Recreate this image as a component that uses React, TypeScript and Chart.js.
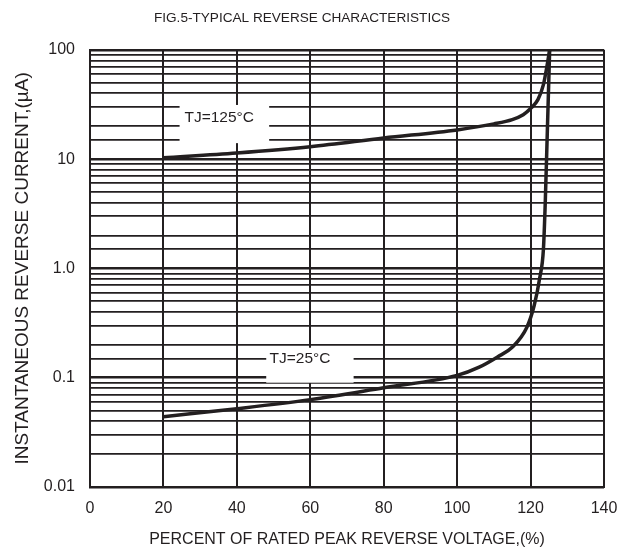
import React, { useEffect, useRef } from "react";
import { Chart, registerables } from "chart.js";

Chart.register(...registerables);

const chartTitle = "FIG.5-TYPICAL REVERSE CHARACTERISTICS";
const xTitle = "PERCENT OF RATED PEAK REVERSE VOLTAGE,(%)";
const yTitle = "INSTANTANEOUS REVERSE CURRENT,(\u00B5A)";

const xTicks = [0, 20, 40, 60, 80, 100, 120, 140];
const yTickLabels: Record<string, string> = { "2": "100", "1": "10", "0": "1.0", "-1": "0.1", "-2": "0.01" };

const x125 = [20, 40, 60, 80, 100, 110, 115, 118, 120, 122, 123.5, 124.5, 125.2];
const y125 = [10.3, 11.4, 13, 15.6, 18.5, 21, 23, 25.5, 29, 35, 48, 72, 100];

const x25 = [20, 40, 60, 80, 100, 106, 111, 115, 119, 121, 122.5, 123.5, 124, 124.5, 125.2];
const y25 = [0.044, 0.052, 0.063, 0.081, 0.105, 0.125, 0.155, 0.19, 0.29, 0.46, 0.82, 1.5, 4, 15, 100];

const labels = [
  { text: "TJ=125\u00B0C", x: 35.2, y: 23.8, box: [24.4, 48.8, 31.3, 14.0] },
  { text: "TJ=25\u00B0C", x: 57.2, y: 0.149, box: [48, 71.8, 0.188, 0.09] },
];

const ink = "#231f20";
const font = "'Liberation Sans', Arial, sans-serif";

export default function App() {
  const ref = useRef<HTMLCanvasElement | null>(null);
  useEffect(() => {
    document.body.style.margin = "0";
    const canvas = ref.current;
    if (!canvas) return;
    const labelPlugin = {
      id: "tjLabels",
      beforeDatasetsDraw(chart: any) {
        const { ctx, scales } = chart;
        ctx.save();
        for (const l of labels) {
          const x0 = scales.x.getPixelForValue(l.box[0]);
          const x1 = scales.x.getPixelForValue(l.box[1]);
          const y0 = scales.y.getPixelForValue(l.box[2]);
          const y1 = scales.y.getPixelForValue(l.box[3]);
          ctx.fillStyle = "#ffffff";
          ctx.fillRect(x0, y0, x1 - x0, y1 - y0);
          ctx.fillStyle = ink;
          ctx.font = `15.5px ${font}`;
          ctx.textAlign = "center";
          ctx.textBaseline = "middle";
          ctx.fillText(l.text, scales.x.getPixelForValue(l.x), scales.y.getPixelForValue(l.y));
        }
        ctx.restore();
      },
    };
    const chart = new Chart(canvas, {
      type: "line",
      data: {
        datasets: [
          {
            label: "TJ=125°C",
            data: x125.map((x, i) => ({ x, y: y125[i] })),
            borderColor: ink,
            borderWidth: 3.5,
            pointRadius: 0,
            cubicInterpolationMode: "monotone",
            fill: false,
          },
          {
            label: "TJ=25°C",
            data: x25.map((x, i) => ({ x, y: y25[i] })),
            borderColor: ink,
            borderWidth: 3.5,
            pointRadius: 0,
            cubicInterpolationMode: "monotone",
            fill: false,
          },
        ],
      },
      plugins: [labelPlugin],
      options: {
        animation: false,
        responsive: false,
        devicePixelRatio: 1,
        layout: { padding: { top: 0, right: 18, left: 0, bottom: 0 } },
        plugins: {
          legend: { display: false },
          tooltip: { enabled: false },
          title: {
            display: true,
            text: chartTitle,
            color: ink,
            font: { family: font, size: 13.6, weight: "normal" },
            padding: { top: 10, bottom: 23.5 },
          },
        },
        scales: {
          x: {
            type: "linear",
            min: 0,
            max: 140,
            afterBuildTicks: (s: any) => {
              s.ticks = xTicks.map((v) => ({ value: v }));
            },
            afterFit: (s: any) => {
              s.height = 67;
              s.paddingLeft = 0;
              s.paddingRight = 0;
            },
            ticks: { color: ink, font: { family: font, size: 16 }, padding: 12, maxRotation: 0 },
            grid: { color: ink, lineWidth: 2, drawTicks: false },
            border: { color: ink, width: 2 },
            title: {
              display: true,
              text: xTitle,
              color: ink,
              font: { family: font, size: 16 },
              padding: { top: 0, bottom: 4.5 },
            },
          },
          y: {
            type: "logarithmic",
            min: 0.01,
            max: 100,
            afterFit: (s: any) => {
              s.width = 90;
              s.paddingTop = 0;
              s.paddingBottom = 0;
            },
            ticks: {
              autoSkip: false,
              color: ink,
              font: { family: font, size: 16 },
              padding: 15,
              callback: (v: any) => {
                const l = Math.log10(Number(v));
                const r = Math.round(l);
                if (Math.abs(l - r) < 1e-6) return yTickLabels[String(r)] ?? "";
                return "";
              },
            },
            grid: {
              color: ink,
              drawTicks: false,
              lineWidth: (c: any) => {
                const v = c.tick ? c.tick.value : 1;
                const l = Math.log10(v);
                return Math.abs(l - Math.round(l)) < 1e-6 ? 2.6 : 1.8;
              },
            },
            border: { color: ink, width: 2 },
            title: {
              display: true,
              text: yTitle,
              color: ink,
              font: { family: font, size: 19 },
              padding: { top: 11, bottom: 0 },
            },
          },
        },
      },
    } as any);
    return () => chart.destroy();
  }, []);
  return (
    <div style={{ position: "absolute", left: 0, top: 0, width: 622, height: 554, background: "#fff" }}>
      <canvas ref={ref} width={622} height={554} style={{ width: 622, height: 554 }} />
    </div>
  );
}
